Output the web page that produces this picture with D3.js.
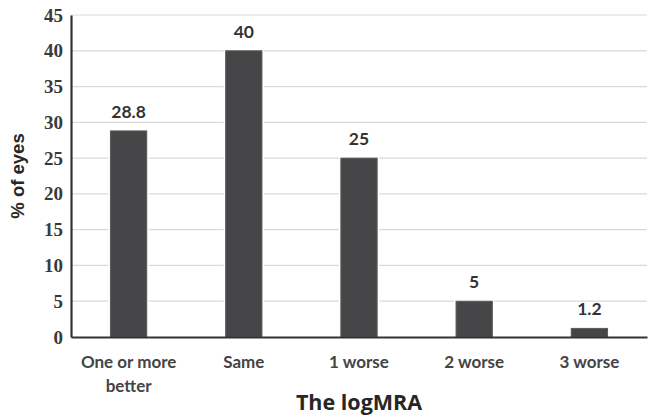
<!DOCTYPE html>
<html><head><meta charset="utf-8">
<script src="https://cdn.jsdelivr.net/npm/d3@7"></script>
<style>body{margin:0;background:#fff}svg{display:block}</style>
</head><body>
<script>
const categories = [["One or more","better"],["Same"],["1 worse"],["2 worse"],["3 worse"]];
const values = [28.8, 40, 25, 5, 1.2];
const valueLabels = ["28.8","40","25","5","1.2"];
const yTicks = [0,5,10,15,20,25,30,35,40,45];

const W = 653, H = 418;
const m = {left:71, right:6, top:15, bottom:81};
const svg = d3.select("body").append("svg").attr("width",W).attr("height",H);
const x = d3.scaleBand().domain(d3.range(values.length)).range([m.left, W-m.right]).paddingInner(0.685).paddingOuter(0.3425);
const y = d3.scaleLinear().domain([0,45]).range([H-m.bottom, m.top]);

// grid
svg.append("g").selectAll("line").data(yTicks.filter(d=>d>0)).join("line")
  .attr("x1",m.left).attr("x2",W-m.right).attr("y1",d=>y(d)).attr("y2",d=>y(d))
  .attr("stroke","#d9d9d9").attr("stroke-width",1.2);

// bars
svg.append("g").selectAll("rect.halo").data(values).join("rect")
  .attr("x",(d,i)=>x(i)-2).attr("width",x.bandwidth()+4)
  .attr("y",d=>y(d)-2).attr("height",d=>y(0)-y(d)+2).attr("fill","#fff");
svg.append("g").selectAll("rect.bar").data(values).join("rect")
  .attr("x",(d,i)=>x(i)).attr("width",x.bandwidth())
  .attr("y",d=>y(d)).attr("height",d=>y(0)-y(d))
  .attr("fill","#464648").attr("stroke","#5a5a5a").attr("stroke-width",1);

// value labels
svg.append("g").selectAll("text").data(values).join("text")
  .attr("x",(d,i)=>x(i)+x.bandwidth()/2).attr("y",d=>y(d)-13)
  .attr("text-anchor","middle").attr("font-family","Lato, sans-serif")
  .attr("font-weight","bold").attr("font-size",17.5).attr("fill","#333")
  .text((d,i)=>valueLabels[i]);

// y axis
const ya = svg.append("g").attr("transform",`translate(${m.left},0)`)
  .call(d3.axisLeft(y).tickValues(yTicks).tickSize(0).tickPadding(8));
ya.attr("font-family",null);
ya.select(".domain").attr("stroke","#333").attr("stroke-width",2.2);
ya.selectAll("text").style("font-family","'Liberation Serif', 'DejaVu Serif', serif").attr("font-weight","bold")
  .attr("font-size",19).attr("fill","#3a3a3a");

// x axis
const xa = svg.append("g").attr("transform",`translate(0,${y(0)})`)
  .call(d3.axisBottom(x).tickSize(0).tickFormat(""));
xa.select(".domain").attr("stroke","#333").attr("stroke-width",2.2);
xa.selectAll(".tick").each(function(d){
  const t = d3.select(this).append("text").attr("fill","#444")
    .style("font-family","Lato, sans-serif").attr("font-weight","bold").attr("font-size",17)
    .attr("text-anchor","middle");
  categories[d].forEach((s,j)=>t.append("tspan").attr("x",0).attr("y",31+j*24).text(s));
});

// titles
svg.append("text").attr("x",(m.left+W-m.right)/2).attr("y",410).attr("text-anchor","middle")
  .attr("font-family","'Open Sans', sans-serif").attr("font-weight","bold").attr("font-size",21.5)
  .attr("fill","#262626").text("The logMRA");
svg.append("text").attr("transform",`translate(24,${(y(0)+y(45))/2}) rotate(-90)`)
  .attr("text-anchor","middle").attr("font-family","'Liberation Sans', Arial, sans-serif")
  .attr("font-weight","bold").attr("font-size",18.5).attr("fill","#262626").text("% of eyes");
</script>
</body></html>
